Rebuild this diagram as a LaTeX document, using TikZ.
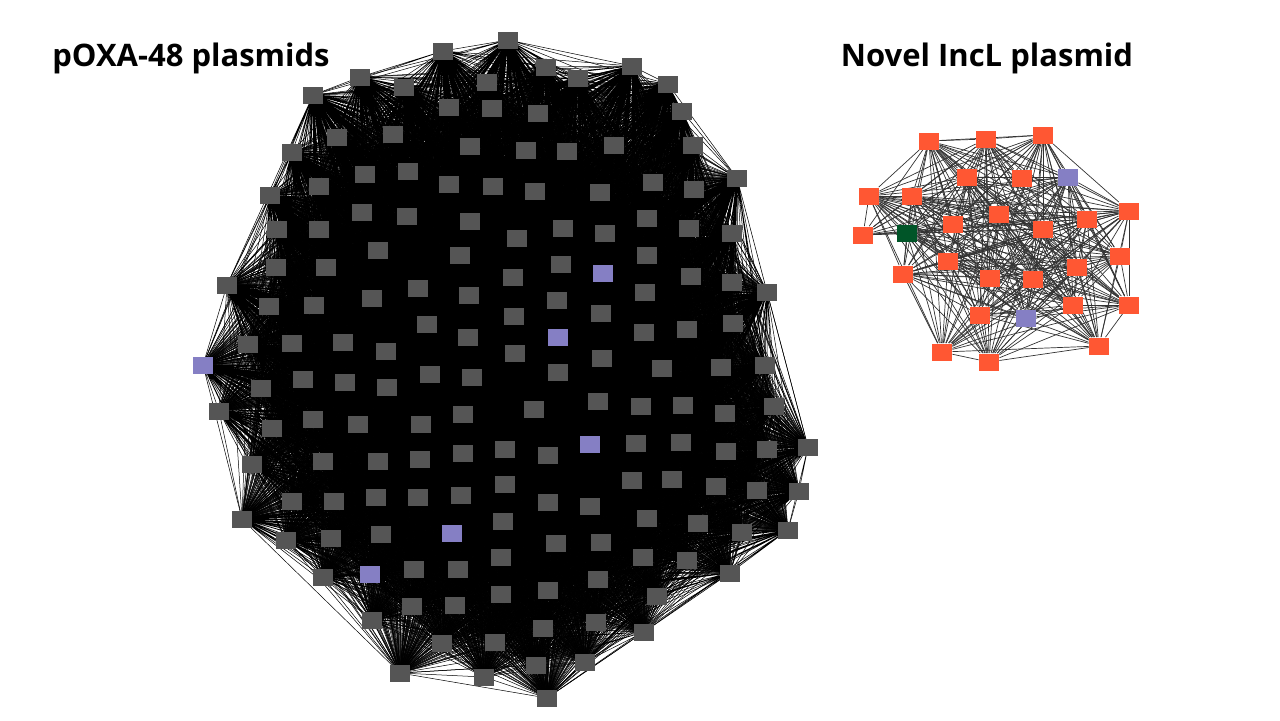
\documentclass[tikz,border=0pt]{standalone}
\usepackage{fontspec}
\newfontfamily\titlefont{Open Sans}
\usetikzlibrary{positioning}
\pgfdeclarelayer{links}
\pgfsetlayers{links,main}
\definecolor{nodegrey}{RGB}{85,85,85}
\definecolor{nodeviolet}{RGB}{133,127,196}
\definecolor{nodeorange}{RGB}{255,87,51}
\definecolor{nodegreen}{RGB}{0,85,40}

\begin{document}
\begin{tikzpicture}[x=0.5pt, y=-0.5pt,
    sq/.style={rectangle, minimum width=10pt, minimum height=8.5pt, inner sep=0pt},
    sqgrey/.style={sq, fill=nodegrey},
    sqviolet/.style={sq, fill=nodeviolet},
    sqorange/.style={sq, fill=nodeorange},
    sqgreen/.style={sq, fill=nodegreen},
    link/.style={black, line width=0.25pt},
    ilink/.style={black!80, line width=0.35pt},
    title/.style={font=\titlefont\bfseries\fontsize{15.5}{18}\selectfont}]
    \useasboundingbox (0,0) rectangle (1280,720);
    % pOXA-48 network
    \foreach \x/\y/\s [count=\k] in {508/40/grey,443/51/grey,546/67/grey,578/78/grey,632/66/grey,
        360/77/grey,404/87/grey,487/82/grey,668/84/grey,313/95/grey,449/107/grey,492/108/grey,
        538/113/grey,682/111/grey,337/137/grey,393/134/grey,470/146/grey,526/150/grey,567/151/grey,
        614/145/grey,693/145/grey,292/152/grey,365/174/grey,408/171/grey,319/186/grey,449/184/grey,
        493/186/grey,535/191/grey,600/192/grey,653/182/grey,694/189/grey,737/178/grey,270/195/grey,
        362/212/grey,407/216/grey,470/221/grey,563/228/grey,605/233/grey,647/218/grey,689/228/grey,
        732/233/grey,277/229/grey,319/229/grey,517/238/grey,378/250/grey,460/255/grey,647/255/grey,
        276/267/grey,326/267/grey,561/264/grey,603/273/violet,513/277/grey,691/276/grey,732/282/grey,
        767/292/grey,227/285/grey,418/288/grey,372/298/grey,469/295/grey,557/300/grey,645/292/grey,
        269/306/grey,314/305/grey,427/324/grey,468/337/grey,514/316/grey,601/313/grey,558/337/violet,
        644/332/grey,687/329/grey,733/323/grey,248/344/grey,292/343/grey,343/342/grey,386/351/grey,
        515/353/grey,602/358/grey,203/365/violet,430/374/grey,472/377/grey,558/372/grey,662/368/grey,
        721/367/grey,765/365/grey,261/388/grey,303/379/grey,345/382/grey,387/387/grey,219/411/grey,
        313/419/grey,358/424/grey,421/424/grey,463/414/grey,272/428/grey,534/409/grey,598/401/grey,
        641/406/grey,683/405/grey,725/413/grey,774/406/grey,252/464/grey,323/461/grey,378/461/grey,
        420/459/grey,463/453/grey,505/449/grey,548/455/grey,590/444/violet,636/443/grey,681/442/grey,
        726/451/grey,767/449/grey,808/447/grey,242/519/grey,292/501/grey,334/501/grey,376/497/grey,
        418/497/grey,461/495/grey,505/484/grey,632/480/grey,672/479/grey,716/486/grey,757/490/grey,
        799/491/grey,548/502/grey,590/506/grey,286/540/grey,331/538/grey,381/534/grey,452/533/violet,
        503/521/grey,647/518/grey,698/523/grey,742/532/grey,788/530/grey,556/543/grey,601/542/grey,
        323/577/grey,370/574/violet,414/569/grey,458/569/grey,501/557/grey,643/557/grey,687/560/grey,
        730/573/grey,598/579/grey,548/590/grey,501/594/grey,657/596/grey,372/620/grey,412/606/grey,
        455/605/grey,596/622/grey,543/628/grey,644/632/grey,442/643/grey,495/642/grey,585/662/grey,
        536/665/grey,400/673/grey,484/677/grey,547/698/grey} {
        \node[sq\s] (p\k) at (\x,\y) {};
    }
    \begin{pgfonlayer}{links}
        \foreach \i in {1,...,162} {
            \pgfmathtruncatemacro\k{\i+1}
            \draw[link] foreach \j in {\k,...,163} {(p\i.center) -- (p\j.center)};
        }
    \end{pgfonlayer}
    % IncL network
    \foreach \x/\y/\s [count=\k] in {929/141/orange,986/139/orange,1043/135/orange,967/177/orange,
        1022/178/orange,1068/177/violet,869/196/orange,912/196/orange,999/214/orange,953/224/orange,
        1043/229/orange,1087/219/orange,1129/211/orange,907/233/green,863/235/orange,948/261/orange,
        1120/256/orange,1077/267/orange,903/274/orange,990/278/orange,1033/279/orange,1073/305/orange,
        1129/305/orange,980/315/orange,1026/318/violet,942/352/orange,989/362/orange,1099/346/orange} {
        \node[sq\s] (q\k) at (\x,\y) {};
    }
    \begin{pgfonlayer}{links}
        \foreach \i in {1,...,27} {
            \pgfmathtruncatemacro\k{\i+1}
            \foreach \j in {\k,...,28} {
                \pgfmathtruncatemacro\keep{mod(\i*7+\j*5,5)}
                \ifnum\keep>0 \draw[ilink] (q\i) -- (q\j); \fi
            }
        }
    \end{pgfonlayer}
    % titles
    \node[title] (ttlpoxa) at (191,58) {pOXA-48 plasmids};
    \node[title] (ttlincl) at (987,58) {Novel IncL plasmid};
\end{tikzpicture}
\end{document}
